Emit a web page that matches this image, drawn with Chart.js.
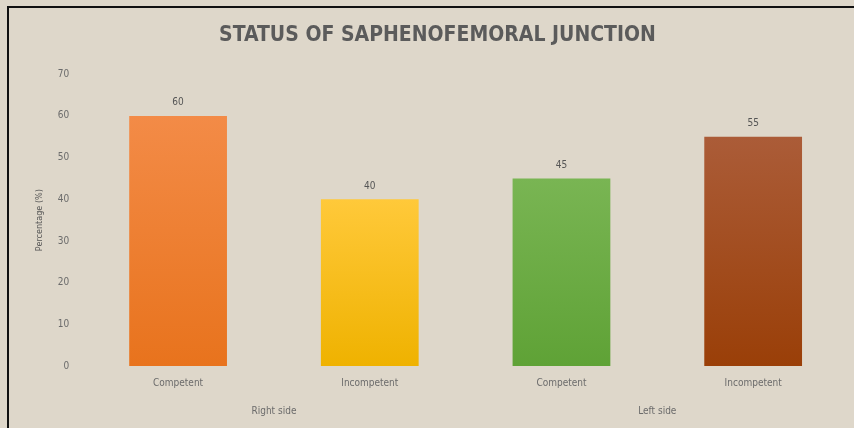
<!DOCTYPE html>
<html>
<head>
<meta charset="utf-8">
<script src="https://cdn.jsdelivr.net/npm/chart.js@4"></script>
<style>
  html, body { margin: 0; padding: 0; background: #ded7ca; }
  #wrap { width: 854px; height: 428px; position: relative; }
</style>
</head>
<body>
<div id="wrap"><canvas id="chart" width="854" height="428"></canvas></div>
<script>
// Chart data
const categories = ['Competent', 'Incompetent', 'Competent', 'Incompetent'];
const groups = ['Right side', 'Left side'];
const values = [60, 40, 45, 55];
const topColors = ['#f38b47', '#ffc93a', '#79b553', '#ab5c38'];
const bottomColors = ['#e8731d', '#efb200', '#5fa236', '#9a3f08'];

const fontFamily = '"DejaVu Sans Condensed", "Liberation Sans Narrow", "Liberation Sans", sans-serif';

// Paper background and frame
const backdrop = {
    id: 'backdrop',
    beforeDraw(chart) {
        const ctx = chart.ctx;
        ctx.save();
        ctx.fillStyle = '#ded7ca';
        ctx.fillRect(0, 0, chart.width, chart.height);
        ctx.strokeStyle = '#111';
        ctx.lineWidth = 2;
        ctx.beginPath();
        ctx.moveTo(8, chart.height);
        ctx.lineTo(8, 7);
        ctx.lineTo(chart.width, 7);
        ctx.stroke();
        ctx.restore();
    }
};

// Value labels above bars
const valueLabels = {
    id: 'valueLabels',
    afterDatasetsDraw(chart) {
        const ctx = chart.ctx;
        const meta = chart.getDatasetMeta(0);
        ctx.save();
        ctx.font = '10px ' + fontFamily;
        ctx.fillStyle = '#555';
        ctx.textAlign = 'center';
        ctx.textBaseline = 'bottom';
        meta.data.forEach((bar, i) => {
            ctx.fillText(values[i], bar.x, bar.y - 8);
        });
        ctx.restore();
    }
};

function barGradient(context) {
    const chart = context.chart;
    const area = chart.chartArea;
    const i = context.dataIndex;
    if (!area) return topColors[i];
    const yScale = chart.scales.y;
    const top = yScale.getPixelForValue(values[i]);
    const g = chart.ctx.createLinearGradient(0, top, 0, area.bottom);
    g.addColorStop(0, topColors[i]);
    g.addColorStop(1, bottomColors[i]);
    return g;
}

new Chart(document.getElementById('chart'), {
    type: 'bar',
    data: {
        labels: categories,
        datasets: [{
            data: values,
            backgroundColor: barGradient,
            borderWidth: 0,
            categoryPercentage: 1,
            barPercentage: 0.51
        }]
    },
    options: {
        responsive: false,
        animation: false,
        layout: { padding: { top: 10, right: 5, left: 26, bottom: 6 } },
        plugins: {
            legend: { display: false },
            tooltip: { enabled: false },
            title: {
                display: true,
                text: 'STATUS OF SAPHENOFEMORAL JUNCTION',
                color: '#5b5b5b',
                font: { family: fontFamily, size: 21, weight: 'bold' },
                padding: { top: 13, bottom: 26 }
            }
        },
        scales: {
            x: {
                grid: { display: false },
                border: { display: false },
                ticks: { color: '#6b6b6b', font: { family: fontFamily, size: 10 }, padding: 3 }
            },
            x2: {
                type: 'category',
                labels: groups,
                position: 'bottom',
                grid: { display: false },
                border: { display: false },
                ticks: { color: '#6b6b6b', font: { family: fontFamily, size: 10 }, padding: 5 }
            },
            y: {
                min: 0,
                max: 70,
                ticks: { stepSize: 10, color: '#6b6b6b', font: { family: fontFamily, size: 10 }, padding: 5 },
                grid: { display: false },
                border: { display: false },
                title: {
                    display: true,
                    text: 'Percentage (%)',
                    color: '#555',
                    font: { family: fontFamily, size: 9 },
                    padding: 8
                }
            }
        }
    },
    plugins: [backdrop, valueLabels]
});
</script>
</body>
</html>
